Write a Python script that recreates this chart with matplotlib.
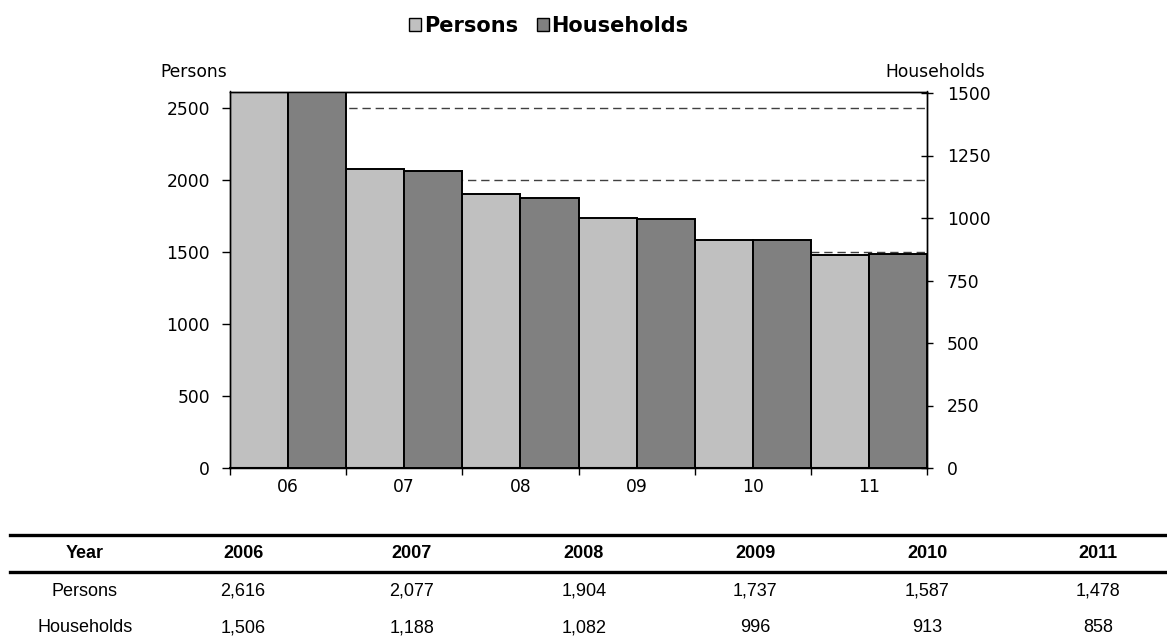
import matplotlib
matplotlib.use("Agg")
import matplotlib.pyplot as plt
from matplotlib.lines import Line2D
from matplotlib.patches import Patch
from matplotlib.ticker import FixedLocator, NullFormatter, FixedFormatter
import numpy as np

years = [2006, 2007, 2008, 2009, 2010, 2011]
year_labels = ["06", "07", "08", "09", "10", "11"]
persons = [2616, 2077, 1904, 1737, 1587, 1478]
households = [1506, 1188, 1082, 996, 913, 858]

plt.rcParams['font.family'] = ['DejaVu Sans']
TABLE_FONT = ['Liberation Sans', 'DejaVu Sans']
CFS = 12.3  # chart font size

W, H = 1167, 642
fig = plt.figure(figsize=(W / 100, H / 100), dpi=100)

def fx(px):
    return px / W

def fy(py):
    return 1 - py / H

ax = fig.add_axes([fx(230), fy(468), fx(927) - fx(230), fy(91.5) - fy(468)])
ax2 = ax.twinx()

x = np.arange(len(years))
bw = 0.5
ax.bar(x - bw / 2, persons, width=bw, color="#c0c0c0", edgecolor="black", linewidth=1.4, zorder=2)
ax2.bar(x + bw / 2, households, width=bw, color="#808080", edgecolor="black", linewidth=1.4, zorder=2)

ax.set_xlim(-0.5, len(years) - 0.5)
ax.set_ylim(0, max(persons))
ax2.set_ylim(0, max(households))

ax.set_yticks([0, 500, 1000, 1500, 2000, 2500])
ax2.set_yticks([0, 250, 500, 750, 1000, 1250, 1500])

ax.set_axisbelow(True)
ax.yaxis.grid(True, color="#404040", linestyle=(0, (6, 3.5)), linewidth=1.0)

ax.xaxis.set_major_locator(FixedLocator(np.arange(-0.5, len(years), 1.0)))
ax.xaxis.set_major_formatter(NullFormatter())
ax.xaxis.set_minor_locator(FixedLocator(x))
ax.xaxis.set_minor_formatter(FixedFormatter(year_labels))
ax.tick_params(axis="x", which="major", direction="out", length=5, width=1)
ax.tick_params(axis="x", which="minor", length=0, pad=7, labelsize=CFS)
ax.tick_params(axis="y", direction="out", length=5.8, width=1, pad=8.6, labelsize=CFS)
ax2.tick_params(axis="y", direction="inout", length=8.6, width=1, pad=10, labelsize=CFS)

for a in (ax, ax2):
    for s in a.spines.values():
        s.set_linewidth(1.0)
        s.set_color("black")
ax.spines["bottom"].set_linewidth(1.5)

fig.text(fx(160), fy(72), "Persons", ha="left", va="center", fontsize=CFS)
fig.text(fx(885), fy(72), "Households", ha="left", va="center", fontsize=CFS)

handles = [Patch(facecolor="#c0c0c0", edgecolor="black", linewidth=1.0, label="Persons"),
           Patch(facecolor="#808080", edgecolor="black", linewidth=1.0, label="Households")]
fig.legend(handles=handles, loc="center", bbox_to_anchor=(fx(549), fy(26)), ncol=2, frameon=False,
           prop={"weight": "bold", "size": 15}, handlelength=0.58, handleheight=0.62,
           handletextpad=0.12, columnspacing=0.9, borderpad=0)

# Table
col_x = [85, 243, 412, 584, 755, 927, 1098]
fig.add_artist(Line2D([fx(10), fx(1167)], [fy(535), fy(535)], color="black", linewidth=2.4, transform=fig.transFigure))
fig.add_artist(Line2D([fx(10), fx(1167)], [fy(572), fy(572)], color="black", linewidth=2.4, transform=fig.transFigure))

header = ["Year"] + [str(y) for y in years]
row_p = ["Persons"] + [f"{v:,}" for v in persons]
row_h = ["Households"] + [f"{v:,}" for v in households]
for cx, t in zip(col_x, header):
    fig.text(fx(cx), fy(553), t, ha="center", va="center", fontsize=13, fontweight="bold", family=TABLE_FONT)
for cx, t in zip(col_x, row_p):
    fig.text(fx(cx), fy(591), t, ha="center", va="center", fontsize=13, family=TABLE_FONT)
for cx, t in zip(col_x, row_h):
    fig.text(fx(cx), fy(628), t, ha="center", va="center", fontsize=13, family=TABLE_FONT)

fig.savefig("out.png", dpi=100)
